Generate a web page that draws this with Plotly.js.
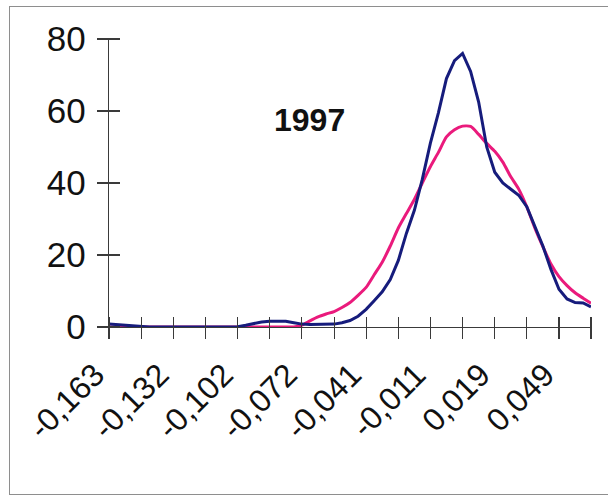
<!DOCTYPE html>
<html>
<head>
<meta charset="utf-8">
<script src="https://cdn.plot.ly/plotly-3.0.1.min.js"></script>
<style>
  html, body { margin: 0; padding: 0; background: #fff; }
  #wrap { position: relative; width: 608px; height: 497px; overflow: hidden; background: #fff; }
  #frame { position: absolute; left: 9px; top: 6px; width: 640px; height: 489px;
           border: 1.5px solid #8e8e8e; box-sizing: border-box; }
  #chart { position: absolute; left: 0; top: 0; width: 608px; height: 497px; }
</style>
</head>
<body>
<div id="wrap">
  <div id="frame"></div>
  <div id="chart"></div>
</div>
<script>
// Return bins (class midpoints)
const returns = [
  -0.1628, -0.1590, -0.1552, -0.1514, -0.1476, -0.1438, -0.1400, -0.1362,
  -0.1324, -0.1287, -0.1249, -0.1211, -0.1173, -0.1135, -0.1097, -0.1059,
  -0.1021, -0.0983, -0.0945, -0.0908, -0.0870, -0.0832, -0.0794, -0.0756,
  -0.0718, -0.0680, -0.0642, -0.0604, -0.0566, -0.0529, -0.0491, -0.0453,
  -0.0415, -0.0377, -0.0339, -0.0301, -0.0263, -0.0225, -0.0187, -0.0150,
  -0.0112, -0.0074, -0.0036, 0.0002, 0.0040, 0.0078, 0.0116, 0.0154,
  0.0192, 0.0230, 0.0267, 0.0305, 0.0343, 0.0381, 0.0419, 0.0457,
  0.0495, 0.0533, 0.0571, 0.0609, 0.0646
];

// Empirical frequency of daily returns, 1997
const observed = [
  0.8, 0.6, 0.4, 0.2, 0, 0, 0, 0,
  0, 0, 0, 0, 0, 0, 0, 0,
  0.1, 0.5, 1.0, 1.4, 1.6, 1.6, 1.6, 1.2,
  0.8, 0.7, 0.7, 0.7, 0.8, 1.2, 1.8, 3.0,
  4.9, 7.3, 9.8, 13.2, 18.5, 26, 32.5, 41,
  51, 59.5, 69, 74, 76, 71, 62.5, 50,
  43, 40, 38.3, 36.6, 33.4, 28, 22.5, 16,
  10.5, 7.8, 6.8, 6.7, 5.6
];

// Fitted normal density
const normalFit = [
  0, 0, 0, 0, 0, 0, 0, 0,
  0, 0, 0, 0, 0, 0, 0, 0,
  0, 0, 0, 0, 0, 0, 0, 0,
  0.5, 1.7, 2.8, 3.6, 4.3, 5.4, 6.8, 8.8,
  11.0, 14.5, 18, 22.5, 27.5, 31.5, 35.5, 40,
  44.5, 48.5, 52.8, 54.8, 55.8, 55.7, 53.5, 51,
  48.8, 45.8, 41.8, 38.3, 33.4, 27.5, 22.3, 17.5,
  14, 11.5, 9.5, 8, 6.6
];

const tickLabels = [
  '-0,163', '', '-0,132', '', '-0,102', '', '-0,072', '',
  '-0,041', '', '-0,011', '', '0,019', '', '0,049', ''
];
const yTicks = [0, 20, 40, 60, 80];
const chartTitle = '1997';

// a tick every fourth bin, a label every eighth
const tickPositions = returns.filter((_, i) => i % 4 === 0);

const FONT = 'Arial, "Liberation Sans", Helvetica, sans-serif';
const AXIS_COLOR = '#3a3a3a';
const xRange = [returns[0], returns[returns.length - 1]];
const TICK = 11;            // half length of the cross ticks, px
const PLOT_W = 608 - 109 - 17;
const PLOT_H = 497 - 39 - 170;

const traces = [
  {
    x: returns, y: normalFit, type: 'scatter', mode: 'lines',
    line: { color: '#ea1a7c', width: 3, shape: 'spline', smoothing: 0.6 },
    xaxis: 'x', yaxis: 'y', hoverinfo: 'skip'
  },
  {
    x: returns, y: observed, type: 'scatter', mode: 'lines',
    line: { color: '#161c7c', width: 3 },
    xaxis: 'x2', yaxis: 'y2', hoverinfo: 'skip'
  }
];

const baseX = {
  range: xRange, tickmode: 'array', tickvals: tickPositions,
  showgrid: false, zeroline: false,
  linecolor: AXIS_COLOR, linewidth: 1.2,
  tickcolor: AXIS_COLOR, tickwidth: 1.2
};
const baseY = {
  range: [0, 80], tickmode: 'array', tickvals: yTicks,
  showgrid: false, zeroline: false,
  linecolor: AXIS_COLOR, linewidth: 1.2,
  tickcolor: AXIS_COLOR, tickwidth: 1.2
};

const layout = {
  width: 608, height: 497,
  margin: { l: 109, r: 17, t: 39, b: 170, pad: 0 },
  paper_bgcolor: 'rgba(0,0,0,0)', plot_bgcolor: 'rgba(0,0,0,0)',
  showlegend: false,
  font: { family: FONT, color: '#111' },
  // axis lines with labels
  xaxis: Object.assign({}, baseX, {
    showline: true, ticks: 'outside', ticklen: TICK,
    ticktext: tickLabels, tickangle: -45,
    tickfont: { family: FONT, size: 32, color: '#111' },
    ticklabelstandoff: 4, ticklabelshift: -14
  }),
  yaxis: Object.assign({}, baseY, {
    showline: true, ticks: 'outside', ticklen: TICK,
    tickfont: { family: FONT, size: 35, color: '#111' },
    ticklabelstandoff: 4
  }),
  // tick marks that cross the axis lines
  xaxis2: Object.assign({}, baseX, {
    overlaying: 'x', anchor: 'free', position: TICK / PLOT_H,
    showline: false, ticks: 'outside', ticklen: 2 * TICK, showticklabels: false
  }),
  yaxis2: Object.assign({}, baseY, {
    overlaying: 'y', anchor: 'free', position: TICK / PLOT_W,
    showline: false, ticks: 'outside', ticklen: 2 * TICK, showticklabels: false
  }),
  annotations: [{
    text: '<b>' + chartTitle + '</b>', xref: 'paper', yref: 'paper',
    x: 0.417, y: 0.719, xanchor: 'center', yanchor: 'middle', showarrow: false,
    font: { family: FONT, size: 32, color: '#111' }
  }]
};

Plotly.newPlot('chart', traces, layout, { staticPlot: true, displayModeBar: false });
</script>
</body>
</html>
